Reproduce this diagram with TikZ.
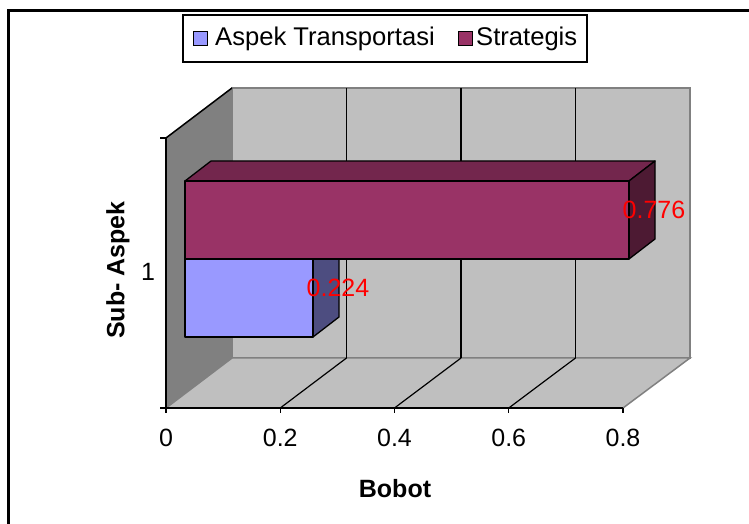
\documentclass[tikz,border=0pt]{standalone}
\usepackage{fontspec}
\setmainfont{Liberation Sans}
\begin{document}
\begin{tikzpicture}[x=1bp,y=-1bp,
  lab/.style={font=\fontsize{25bp}{30bp}\selectfont, inner sep=0pt},
  leglab/.style={font=\fontsize{25.6bp}{30bp}\selectfont, inner sep=0pt, anchor=west},
  blab/.style={font=\fontsize{25bp}{30bp}\selectfont\bfseries, inner sep=0pt},
  vlab/.style={font=\fontsize{25bp}{30bp}\selectfont, inner sep=0pt, text=red},
  wallgray/.style={fill=black!50, draw=black!50, line width=1pt},
  wallsilver/.style={fill=black!25, draw=black!50, line width=1.5pt},
  grid/.style={draw=black, line width=1.2pt},
  barline/.style={draw=black, line width=1.3pt, line join=round},
  legkey/.style={draw=black, line width=1pt}]
\useasboundingbox (0,0) rectangle (749,524);
\fill[white] (0,0) rectangle (749,524);

% outer chart frame
\draw[line width=2.5pt] (8.5,530) -- (8.5,10.5) -- (760,10.5);

% walls and floor
\path[wallgray] (166,138) -- (232,88) -- (232,358) -- (166,408) -- cycle;
\path[wallsilver] (232,88) rectangle (690,358);
\path[wallsilver] (166,408) -- (232,358) -- (690,358) -- (623,408) -- cycle;

% gridlines on back wall and floor
\foreach \k in {1,2,3} {
  \draw[grid] ({232+114.5*\k},88) -- ({232+114.5*\k},358);
  \draw[grid] ({166+114.25*\k},408) -- ({232+114.5*\k},358);
}

% axes
\draw[line width=1.5pt] (166,138) -- (232,88);
\draw[line width=1.5pt] (166,138) -- (166,408) -- (623,408);
\draw[line width=1.3pt] (160,138) -- (166,138);
\draw[line width=1.3pt] (160,408) -- (166,408);
\foreach \k in {0,...,4} \draw[line width=1.3pt] ({166+114.25*\k},408) -- ({166+114.25*\k},413);

% bar: Aspek Transportasi
\path[barline, fill={rgb,255:red,77;green,77;blue,128}] (313,259) -- (339,239) -- (339,317) -- (313,337) -- cycle;
\path[barline, fill={rgb,255:red,153;green,153;blue,255}] (185,259) rectangle (313,337);

% bar: Strategis
\path[barline, fill={rgb,255:red,115;green,38;blue,77}] (185,181) -- (211,161) -- (655,161) -- (629,181) -- cycle;
\path[barline, fill={rgb,255:red,77;green,26;blue,51}] (629,181) -- (655,161) -- (655,239) -- (629,259) -- cycle;
\path[barline, fill={rgb,255:red,153;green,51;blue,102}] (185,181) rectangle (629,259);

% value labels
\node[vlab] (v1) at (338,288) {0.224};
\node[vlab] (v2) at (654,210) {0.776};

% axis labels
\foreach \v [count=\i from 0] in {0,0.2,0.4,0.6,0.8}
  \node[lab] (t\i) at ({166+114.25*\i},438) {\v};
\node[lab] (c1) at (148,272) {1};
\node[blab, rotate=90] (ytitle) at (118,270) {Sub- Aspek};
\node[blab] (xtitle) at (395,489) {Bobot};

% legend
\draw[line width=1.5pt, fill=white] (183,15) rectangle (587,62);
\draw[legkey, fill={rgb,255:red,153;green,153;blue,255}] (193,32) rectangle (207,46);
\node[leglab] (l1) at (215,38.5) {Aspek Transportasi};
\draw[legkey, fill={rgb,255:red,153;green,51;blue,102}] (458,32) rectangle (472,46);
\node[leglab] (l2) at (476,38.5) {Strategis};
\end{tikzpicture}
\end{document}
